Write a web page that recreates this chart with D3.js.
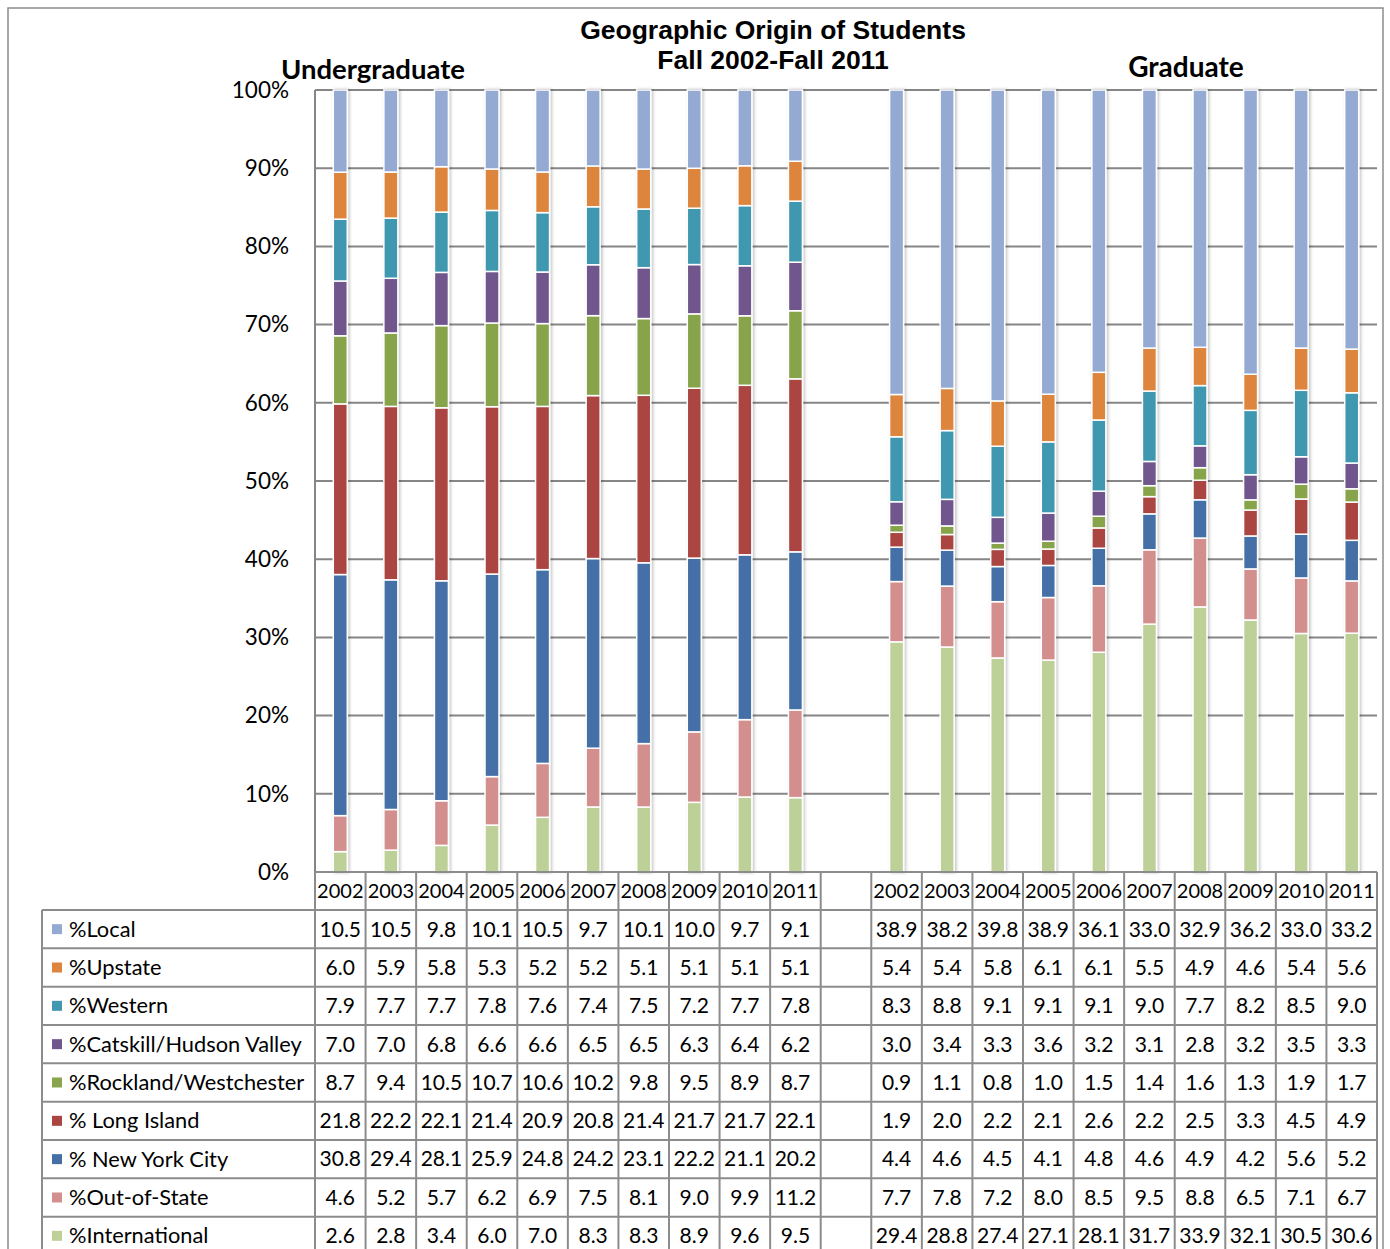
<!DOCTYPE html>
<html>
<head>
<meta charset="utf-8">
<script src="https://cdn.jsdelivr.net/npm/d3@7"></script>
<style>
  body { margin: 0; background: #fff; }
</style>
</head>
<body>
<svg width="1390" height="1249"></svg>
<script>
// years on the x axis (same for both groups)
const years = ['2002','2003','2004','2005','2006','2007','2008','2009','2010','2011'];

// series names, in table order (top of stack first)
const categories = ['%Local','%Upstate','%Western','%Catskill/Hudson Valley','%Rockland/Westchester',
  '% Long Island','% New York City','%Out-of-State','%International'];

// values: first 10 = undergraduate, last 10 = graduate
const local     = [10.5,10.5,9.8,10.1,10.5,9.7,10.1,10.0,9.7,9.1,   38.9,38.2,39.8,38.9,36.1,33.0,32.9,36.2,33.0,33.2];
const upstate   = [6.0,5.9,5.8,5.3,5.2,5.2,5.1,5.1,5.1,5.1,          5.4,5.4,5.8,6.1,6.1,5.5,4.9,4.6,5.4,5.6];
const western   = [7.9,7.7,7.7,7.8,7.6,7.4,7.5,7.2,7.7,7.8,          8.3,8.8,9.1,9.1,9.1,9.0,7.7,8.2,8.5,9.0];
const catskill  = [7.0,7.0,6.8,6.6,6.6,6.5,6.5,6.3,6.4,6.2,          3.0,3.4,3.3,3.6,3.2,3.1,2.8,3.2,3.5,3.3];
const rockland  = [8.7,9.4,10.5,10.7,10.6,10.2,9.8,9.5,8.9,8.7,      0.9,1.1,0.8,1.0,1.5,1.4,1.6,1.3,1.9,1.7];
const longIsland= [21.8,22.2,22.1,21.4,20.9,20.8,21.4,21.7,21.7,22.1, 1.9,2.0,2.2,2.1,2.6,2.2,2.5,3.3,4.5,4.9];
const nyc       = [30.8,29.4,28.1,25.9,24.8,24.2,23.1,22.2,21.1,20.2, 4.4,4.6,4.5,4.1,4.8,4.6,4.9,4.2,5.6,5.2];
const outState  = [4.6,5.2,5.7,6.2,6.9,7.5,8.1,9.0,9.9,11.2,         7.7,7.8,7.2,8.0,8.5,9.5,8.8,6.5,7.1,6.7];
const intl      = [2.6,2.8,3.4,6.0,7.0,8.3,8.3,8.9,9.6,9.5,          29.4,28.8,27.4,27.1,28.1,31.7,33.9,32.1,30.5,30.6];

const seriesValues = [local, upstate, western, catskill, rockland, longIsland, nyc, outState, intl];
const colors = ['#94aad3','#dd853d','#4198b0','#6f568d','#88a44c','#aa4542','#4470a7','#d38f8e','#bcd098'];

const yTicks = [0,0.1,0.2,0.3,0.4,0.5,0.6,0.7,0.8,0.9,1.0];

const svg = d3.select('svg');

// slots: 10 undergrad, one blank, 10 grad
const slots = [...years.map(y => 'U' + y), 'gap', ...years.map(y => 'G' + y)];
const barSlots = slots.filter(s => s !== 'gap');

const plotLeft = 315, plotRight = 1377, plotTop = 90, plotBottom = 872;
const tableLeft = 42, headH = 38, rowH = 38.33;

const x = d3.scaleBand().domain(slots).range([plotLeft, plotRight]);
const y = d3.scaleLinear().domain([0, 1]).range([plotBottom, plotTop]);

// rows for the stack
const rows = barSlots.map((s, i) => {
  const r = { slot: s };
  categories.forEach((c, k) => r[c] = seriesValues[k][i]);
  return r;
});

const stackKeys = categories.slice().reverse(); // International at the bottom
const stacked = d3.stack().keys(stackKeys).offset(d3.stackOffsetExpand)(rows);
const color = d3.scaleOrdinal().domain(categories).range(colors);

// shadow for bars
const defs = svg.append('defs');
const f = defs.append('filter').attr('id', 'sh').attr('x', '-50%').attr('width', '200%');
f.append('feDropShadow').attr('dx', 1.5).attr('dy', 0).attr('stdDeviation', 1.5)
  .attr('flood-color', '#000').attr('flood-opacity', 0.25);

// outer border
svg.append('rect').attr('x', 8).attr('y', 8).attr('width', 1375).attr('height', 1260)
  .attr('fill', 'none').attr('stroke', '#8c8c8c').attr('stroke-width', 1.5);

// gridlines
svg.append('g').selectAll('line').data(yTicks.filter(t => t > 0)).join('line')
  .attr('x1', plotLeft).attr('x2', plotRight)
  .attr('y1', d => y(d)).attr('y2', d => y(d))
  .attr('stroke', '#868686').attr('stroke-width', 2);

// left axis line
svg.append('line').attr('x1', plotLeft).attr('x2', plotLeft).attr('y1', plotTop).attr('y2', plotBottom)
  .attr('stroke', '#868686').attr('stroke-width', 2);

// y tick labels
svg.append('g').selectAll('text').data(yTicks).join('text')
  .attr('x', 289).attr('y', d => y(d)).attr('dy', '0.35em')
  .attr('text-anchor', 'end')
  .style('font-family', 'Lato, sans-serif').style('font-size', '22.5px').attr('fill', '#000')
  .text(d => d3.format('.0%')(d));

// bars
const barW = 14;
svg.append('g').attr('filter', 'url(#sh)')
  .selectAll('g').data(stacked).join('g')
  .attr('fill', d => color(d.key))
  .selectAll('rect').data(d => d).join('rect')
  .attr('x', d => x(d.data.slot) + x.bandwidth() / 2 - barW / 2)
  .attr('width', barW)
  .attr('y', d => y(d[1]))
  .attr('height', d => y(d[0]) - y(d[1]))
  .attr('stroke', '#fff').attr('stroke-width', 1.5);

// titles
const title = svg.append('text').attr('text-anchor', 'middle')
  .style('font-family', '"Liberation Sans", Arial, sans-serif').style('font-weight', 'bold').style('font-size', '26.5px');
title.append('tspan').attr('x', 773).attr('y', 39).text('Geographic Origin of Students');
title.append('tspan').attr('x', 773).attr('y', 69).text('Fall 2002-Fall 2011');

svg.append('text').attr('x', 373).attr('y', 79).attr('text-anchor', 'middle')
  .style('font-family', 'Lato, sans-serif').style('font-weight', 'bold').style('font-size', '27.5px')
  .text('Undergraduate');
svg.append('text').attr('x', 1186).attr('y', 77).attr('text-anchor', 'middle')
  .style('font-family', 'Lato, sans-serif').style('font-weight', 'bold').style('font-size', '28px')
  .text('Graduate');

// data table
const tbl = svg.append('g');
const lineCol = '#8c8c8c';
const tableTop = plotBottom + headH;
const tableBottom = tableTop + rowH * categories.length;

// horizontal lines
tbl.append('line').attr('x1', plotLeft).attr('x2', plotRight).attr('y1', plotBottom).attr('y2', plotBottom)
  .attr('stroke', lineCol).attr('stroke-width', 2);
d3.range(categories.length + 1).forEach(i => {
  tbl.append('line').attr('x1', tableLeft).attr('x2', plotRight)
    .attr('y1', tableTop + i * rowH).attr('y2', tableTop + i * rowH)
    .attr('stroke', lineCol).attr('stroke-width', 2);
});
// vertical lines
slots.forEach(s => {
  tbl.append('line').attr('x1', x(s)).attr('x2', x(s)).attr('y1', plotBottom).attr('y2', tableBottom)
    .attr('stroke', lineCol).attr('stroke-width', 2);
});
tbl.append('line').attr('x1', plotRight).attr('x2', plotRight).attr('y1', plotBottom).attr('y2', tableBottom)
  .attr('stroke', lineCol).attr('stroke-width', 2);
tbl.append('line').attr('x1', tableLeft).attr('x2', tableLeft).attr('y1', tableTop).attr('y2', tableBottom)
  .attr('stroke', lineCol).attr('stroke-width', 2);

// year headers
tbl.selectAll('text.year').data(barSlots).join('text').attr('class', 'year')
  .attr('x', d => x(d) + x.bandwidth() / 2).attr('y', plotBottom + headH / 2).attr('dy', '0.35em')
  .attr('text-anchor', 'middle')
  .style('font-family', 'Lato, sans-serif').style('font-size', '20px')
  .text(d => d.slice(1));

// row labels with swatches
categories.forEach((c, k) => {
  const cy = tableTop + rowH * (k + 0.5);
  tbl.append('rect').attr('x', 52).attr('y', cy - 5).attr('width', 10).attr('height', 10).attr('fill', color(c));
  tbl.append('text').attr('x', 69).attr('y', cy).attr('dy', '0.35em')
    .style('font-family', 'Lato, sans-serif').style('font-size', '21.8px')
    .text(c);
  tbl.append('g').selectAll('text').data(seriesValues[k]).join('text')
    .attr('x', (d, i) => x(barSlots[i]) + x.bandwidth() / 2).attr('y', cy).attr('dy', '0.35em')
    .attr('text-anchor', 'middle')
    .style('font-family', 'Lato, sans-serif').style('font-size', '21px')
    .text(d => d.toFixed(1));
});
</script>
</body>
</html>
